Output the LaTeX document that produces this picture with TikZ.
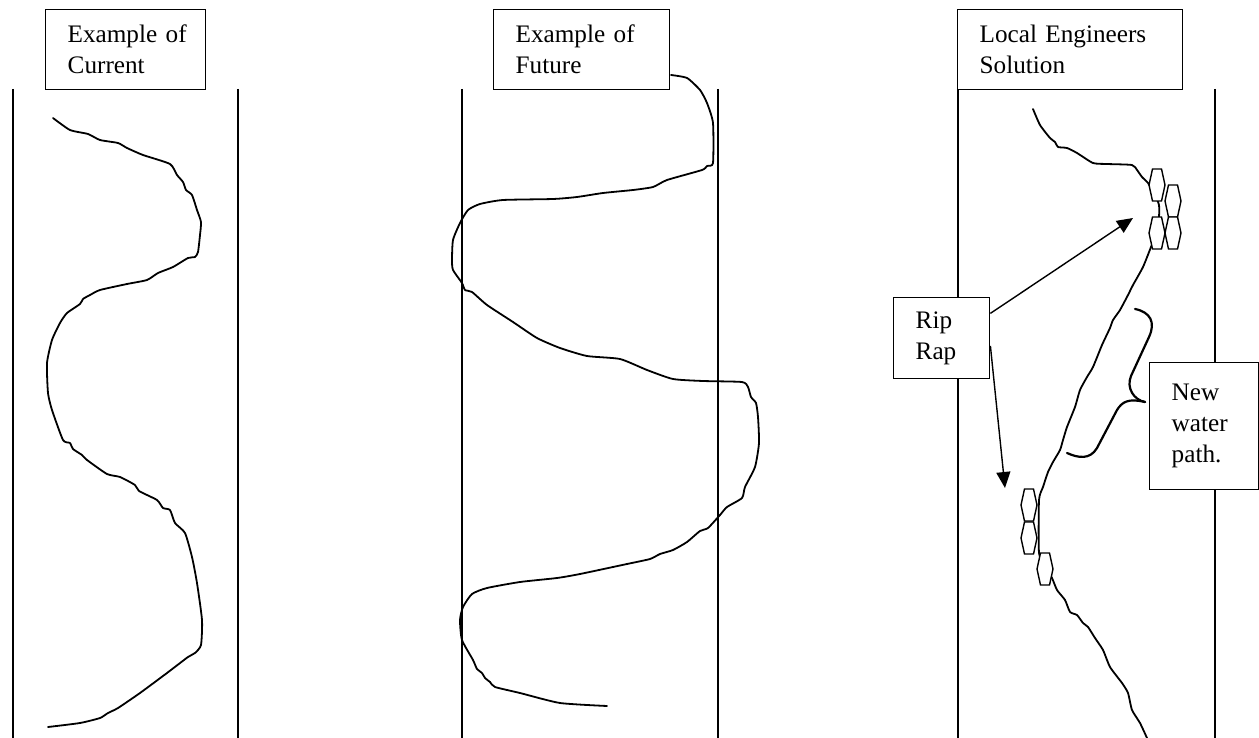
\documentclass[tikz,border=0pt]{standalone}
\usepackage{fontspec}
\setmainfont{Liberation Serif}
\usetikzlibrary{arrows.meta,calc}
\tikzset{
  bank/.style={line width=0.8pt},
  river/.style={line width=0.9pt,line join=round,line cap=round},
  brace/.style={line width=1.1pt,line cap=round},
  titlebox/.style={draw,line width=0.7pt,fill=white,anchor=north west,
    align=left,inner xsep=0pt,font=\fontsize{12.6}{15.5}\selectfont,
    execute at begin node={\leftskip=11pt}},
  flow/.style={-{Triangle[length=8pt,width=7pt]},line width=0.7pt},
  rock/.pic={\draw[line width=0.7pt,fill=white]
    (-4.5,-16) -- (4.5,-16) -- (8,0) -- (4.5,16) -- (-4.5,16) -- (-8,0) -- cycle;}
}

\begin{document}
\begin{tikzpicture}[x=0.5pt,y=-0.5pt]
  \useasboundingbox (0,0) rectangle (1259,738);

  % river banks
  \foreach \bx in {13,238,462,718,958,1215}
    \draw[bank] (\bx,89) -- (\bx,738);

  % present channel
  \draw[river] plot[smooth,tension=0.35] coordinates {
    (53,118) (70,130) (88,134) (100,140) (118,143) (127,148) (143,155)
    (170,164) (177,175) (183,182) (186,190) (192,195) (197,210) (201,222)
    (200,235) (198,252) (195,257) (188,258) (173,267) (158,273) (147,280)
    (127,284) (100,290) (90,295) (83,299) (80,304) (67,313) (60,323)
    (52,340) (47,363) (48,393) (52,410) (63,440) (70,443) (73,449)
    (82,455) (87,460) (107,474) (120,477) (135,485) (139,491) (157,500)
    (163,508) (170,510) (175,523) (185,533) (192,557) (197,583) (202,620)
    (201,645) (195,653) (188,657) (167,673) (140,693) (118,708) (108,713)
    (100,718) (80,723) (48,727)};

  % channel later on
  \draw[river] plot[smooth,tension=0.35] coordinates {
    (671,75) (687,78) (700,90) (707,103) (713,123) (713,163) (707,166)
    (702,170) (667,180) (653,187) (633,190) (603,193) (577,197) (553,199)
    (503,200) (480,204) (468,210) (460,223) (453,240) (452,260) (453,270)
    (462,283) (465,290) (472,292) (487,305) (513,322) (537,338) (560,348)
    (587,356) (620,359) (647,370) (673,379) (703,381) (742,382) (748,387)
    (751,397) (756,403) (758,417) (759,443) (755,467) (745,487) (742,498)
    (727,507) (720,515) (708,528) (700,531) (687,542) (673,550) (660,554)
    (650,559) (627,564) (580,574) (557,578) (520,582) (487,588) (472,594)
    (463,607) (460,620) (462,640) (473,660) (477,669) (482,673) (485,678)
    (490,682) (495,687) (520,693) (560,703) (607,706)};

  % straightened channel
  \draw[river] plot[smooth,tension=0.35] coordinates {
    (1033,109) (1040,125) (1050,138) (1055,142) (1058,147) (1067,148)
    (1077,153) (1093,163) (1107,164) (1132,165) (1137,170) (1142,177)
    (1148,183) (1155,195) (1159,205) (1159,217) (1157,232) (1151,247)
    (1143,267) (1133,285) (1128,295) (1120,310) (1113,320) (1110,328)
    (1102,345) (1093,367) (1087,377) (1080,390) (1075,407) (1067,427)
    (1063,440) (1060,450) (1053,462) (1048,472) (1043,487) (1039,500)
    (1039,553) (1045,566) (1052,578) (1057,590) (1065,600) (1070,612)
    (1077,615) (1083,623) (1088,627) (1095,638) (1103,650) (1110,667)
    (1122,683) (1128,693) (1132,710) (1140,723) (1147,738)};

  % rocks along the bank
  \foreach \rx/\ry in {1157/185,1173/201,1157/233,1173/233,1029/505,1029/538,1045/569}
    \pic at (\rx,\ry) {rock};

  \draw[brace] (1135,309) .. controls (1150,312) and (1156,322) .. (1149,337)
    -- (1131,376) .. controls (1126,388) and (1134,400) .. (1145,402);
  \draw[brace] (1145,402) .. controls (1128,398) and (1122,402) .. (1117,410)
    -- (1097,448) .. controls (1090,460) and (1078,458) .. (1067,453);

  \node[titlebox,text width=80pt,minimum height=40pt] (current) at (45,9)
    {Example of\\Current};
  \node[titlebox,text width=88pt,minimum height=40pt] (future) at (493,9)
    {Example of\\Future};
  \node[titlebox,text width=112.5pt,minimum height=40pt] (engineers) at (957,9)
    {Local Engineers\\Solution};
  \node[titlebox,text width=48pt,minimum height=40.5pt] (riprap) at (893,297)
    {Rip\\Rap};
  \node[titlebox,text width=54.5pt,minimum height=63.5pt] (newpath) at (1149,362)
    {New\\water\\path.};

  \coordinate (upperrock) at (1133,218);
  \coordinate (lowerrock) at (1005,488);
  \draw[flow] (riprap.27) -- (upperrock);
  \draw[flow] (riprap.-9) -- (lowerrock);
\end{tikzpicture}
\end{document}
